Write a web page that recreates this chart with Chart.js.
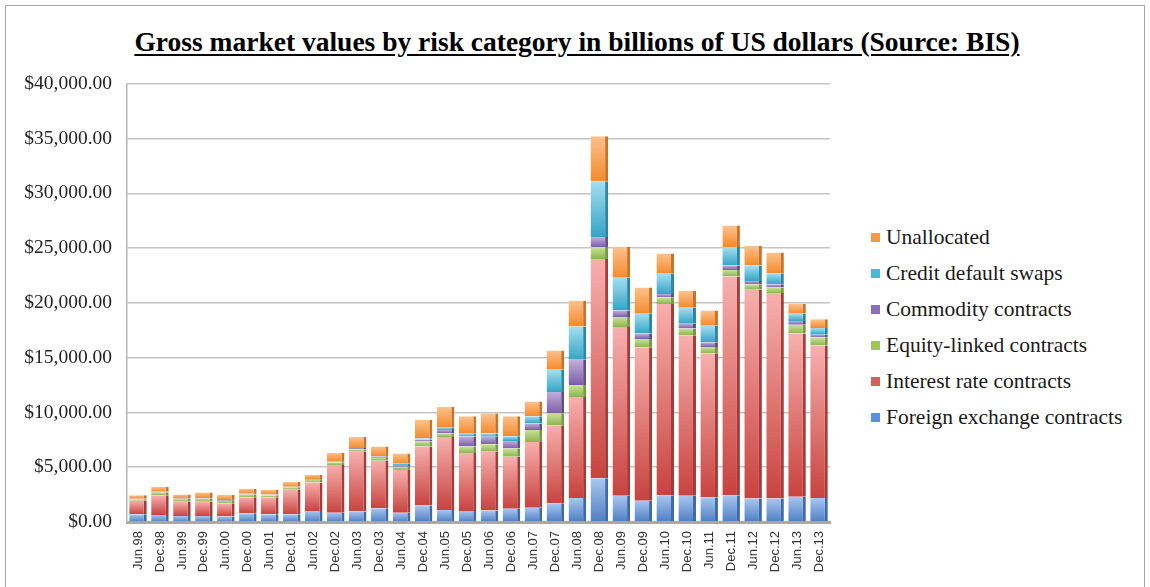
<!DOCTYPE html>
<html>
<head>
<meta charset="utf-8">
<script src="https://cdn.jsdelivr.net/npm/chart.js@4.4.1/dist/chart.umd.min.js"></script>
<style>
  body { margin: 0; background: #fff; width: 1150px; height: 587px; overflow: hidden; position: relative; }
  #frame { position: absolute; left: 5px; top: 5px; width: 1138px; height: 600px; border: 1px solid #a6a6a6; }
  #title {
    position: absolute; left: 2px; top: 26px; width: 1150px; text-align: center;
    font: bold 27.5px "Liberation Serif", "Times New Roman", serif; text-decoration: underline;
    text-underline-offset: 3px; color: #000;
  }
  #chartBox { position: absolute; left: 0; top: 57px; }
  #legend { position: absolute; left: 871px; top: 219px; font: 21.5px "Liberation Serif", serif; color: #1a1a1a; }
  #legend .row { height: 36px; line-height: 36px; white-space: nowrap; }
  #legend .sw { display: inline-block; width: 9px; height: 9px; margin-right: 6px; vertical-align: 2px; }
</style>
</head>
<body>
<div id="frame"></div>
<div id="title">Gross market values by risk category in billions of US dollars (Source: BIS)</div>
<div id="chartBox"><canvas id="riskChart" width="845" height="530"></canvas></div>
<div id="legend"></div>

<script>
// periodos (semestres)
const labels = ["Jun.98","Dec.98","Jun.99","Dec.99","Jun.00","Dec.00","Jun.01","Dec.01","Jun.02","Dec.02",
  "Jun.03","Dec.03","Jun.04","Dec.04","Jun.05","Dec.05","Jun.06","Dec.06","Jun.07","Dec.07",
  "Jun.08","Dec.08","Jun.09","Dec.09","Jun.10","Dec.10","Jun.11","Dec.11","Jun.12","Dec.12","Jun.13","Dec.13"];

// valores (bilhoes de USD)
const foreignExchange = [700,650,550,550,500,800,700,700,1000,850,950,1250,850,1500,1100,1000,1050,1200,1300,1700,2200,4000,2400,1950,2450,2400,2250,2450,2150,2150,2300,2200];
const interestRate = [1250,1800,1300,1300,1200,1450,1550,2250,2600,4350,5450,4350,3900,5400,6650,5300,5350,4750,6000,7130,9200,20000,15400,14000,17450,14650,13150,19950,19050,18750,14900,13900];
const equityLinked = [130,250,250,300,250,250,180,200,250,250,250,270,290,450,350,600,700,750,1100,1070,1100,1100,900,750,600,600,560,600,500,500,800,750];
const commodity = [40,50,40,50,60,120,70,70,80,90,100,130,170,170,300,900,670,700,600,1970,2300,900,600,500,300,450,440,400,300,300,350,250];
const creditDefault = [0,0,0,0,0,0,0,0,0,0,0,0,100,130,200,250,300,430,650,2030,3050,5100,3000,1800,1850,1450,1500,1700,1400,1000,650,600];
const unallocated = [330,450,380,500,450,420,450,430,370,760,1000,900,950,1650,1900,1600,1830,1820,1350,1760,2350,4100,2800,2400,1850,1550,1400,1950,1800,1900,900,800];

const yTicks = [0, 5000, 10000, 15000, 20000, 25000, 30000, 35000, 40000];

// ordem de empilhamento: de baixo para cima
const series = [
  { label: "Foreign exchange contracts", data: foreignExchange, light: "#a9c6ee", dark: "#4d7fc4", side: "#3d6aa8", key: "#5b8fd6" },
  { label: "Interest rate contracts",    data: interestRate,    light: "#f7b0ae", dark: "#c8433f", side: "#a83a37", key: "#d4605c" },
  { label: "Equity-linked contracts",    data: equityLinked,    light: "#c9e19a", dark: "#8db54c", side: "#77993f", key: "#9cc463" },
  { label: "Commodity contracts",        data: commodity,       light: "#c2afdc", dark: "#7a5ea6", side: "#654d8a", key: "#8a6db5" },
  { label: "Credit default swaps",       data: creditDefault,   light: "#a4def0", dark: "#35a4c6", side: "#2a88a5", key: "#4bbad8" },
  { label: "Unallocated",                data: unallocated,     light: "#fcc28e", dark: "#f48a2c", side: "#cc7226", key: "#f79a48" }
];

// gradiente vertical dentro de cada segmento
function segmentGradient(ctx, dsIndex) {
  const s = series[dsIndex];
  const chart = ctx.chart;
  const y = chart.scales.y;
  if (ctx.type !== "data" || !y) return s.dark;
  let base = 0;
  for (let d = 0; d < dsIndex; d++) base += series[d].data[ctx.dataIndex];
  const top = base + s.data[ctx.dataIndex];
  const y0 = y.getPixelForValue(base);
  const y1 = y.getPixelForValue(top);
  if (!isFinite(y0) || !isFinite(y1) || Math.abs(y0 - y1) < 0.5) return s.dark;
  const g = chart.ctx.createLinearGradient(0, y1, 0, y0);
  g.addColorStop(0, s.light);
  g.addColorStop(1, s.dark);
  return g;
}

const datasets = series.map((s, i) => ({
  label: s.label,
  data: s.data,
  backgroundColor: ctx => segmentGradient(ctx, i),
  borderColor: s.side,
  borderWidth: { top: 0, right: 3, bottom: 0, left: 0 },
  borderSkipped: false,
  categoryPercentage: 1.0,
  barPercentage: 0.8
}));

function formatDollar(v) {
  return "$" + Number(v).toLocaleString("en-US", { minimumFractionDigits: 2, maximumFractionDigits: 2 });
}

const riskChart = new Chart(document.getElementById("riskChart").getContext("2d"), {
  type: "bar",
  data: { labels: labels, datasets: datasets },
  options: {
    responsive: false,
    animation: false,
    layout: { padding: { top: 0, right: 15, bottom: 0, left: 0 } },
    plugins: {
      legend: { display: false },
      tooltip: { enabled: false }
    },
    scales: {
      x: {
        stacked: true,
        grid: { display: false, drawTicks: false },
        border: { display: true, color: "#a9a9a9", width: 3 },
        ticks: {
          autoSkip: false,
          minRotation: 90,
          maxRotation: 90,
          padding: 9,
          color: "#333",
          font: { family: "'Liberation Sans', Arial, sans-serif", size: 13 }
        },
        afterFit: scale => { scale.height = 65; }
      },
      y: {
        stacked: true,
        min: 0,
        max: 40000,
        afterBuildTicks: scale => { scale.ticks = yTicks.map(v => ({ value: v })); },
        grid: { color: "#c4c4c4", lineWidth: 1.5, drawTicks: false },
        border: { display: true, color: "#b5b5b5", width: 1.5 },
        ticks: {
          padding: 15,
          color: "#222",
          font: { family: "'Liberation Serif', 'Times New Roman', serif", size: 19.5 },
          callback: v => formatDollar(v)
        },
        afterFit: scale => { scale.width = 127; }
      }
    }
  }
});

// legenda em HTML (ordem inversa, como no original)
const legendEl = document.getElementById("legend");
series.slice().reverse().forEach(s => {
  const row = document.createElement("div");
  row.className = "row";
  row.innerHTML = `<span class="sw" style="background:${s.key}"></span>${s.label}`;
  legendEl.appendChild(row);
});
</script>
</body>
</html>
